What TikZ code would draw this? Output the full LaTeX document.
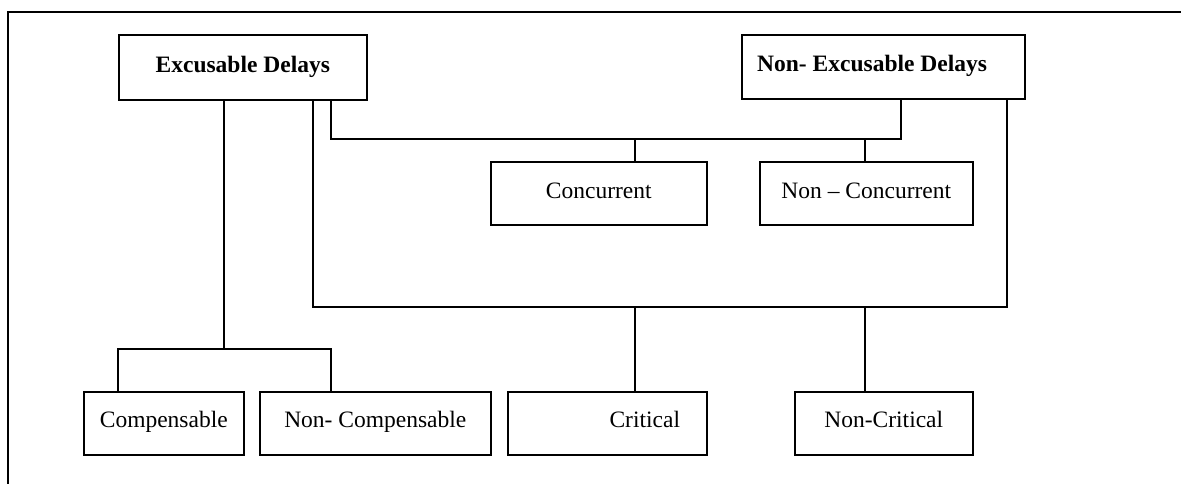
\documentclass[tikz,border=0pt]{standalone}
\usepackage{fontspec}
\setmainfont{Liberation Serif}
\begin{document}
\begin{tikzpicture}[x=1pt,y=1pt,
  box/.style={draw=black, line width=1.6pt, rectangle, inner sep=0pt, anchor=north west},
  lbl/.style={anchor=base, inner sep=0pt, font=\fontsize{23.5}{28}\selectfont},
  conn/.style={draw=black, line width=1.5pt, line cap=rect},
  frameline/.style={draw=black, line width=2pt}]
\useasboundingbox (0,0) rectangle (1181,-484);

% outer frame (top and left edges)
\draw[frameline] (8,-484) -- (8,-12) -- (1181,-12);

% top-level categories
\node[box, minimum width=248, minimum height=65] (ed) at (118,-34) {};
\node[lbl, font=\fontsize{23.5}{28}\selectfont\bfseries] at ([yshift=28]ed.south) {Excusable Delays};
\node[box, minimum width=283, minimum height=64] (ned) at (741,-34) {};
\node[lbl, font=\fontsize{23.5}{28}\selectfont\bfseries, anchor=base west] at ([yshift=28]ned.south west) {\hspace*{16pt}Non- Excusable Delays};

% middle row
\node[box, minimum width=216, minimum height=63] (conc) at (490,-161) {};
\node[lbl] at ([yshift=27]conc.south) {Concurrent};
\node[box, minimum width=213, minimum height=63] (nconc) at (759,-161) {};
\node[lbl] at ([yshift=27]nconc.south) {Non -- Concurrent};

% bottom row
\node[box, minimum width=160, minimum height=63] (comp) at (83,-391) {};
\node[lbl] at ([yshift=28]comp.south) {Compensable};
\node[box, minimum width=231, minimum height=63] (ncomp) at (259,-391) {};
\node[lbl] at ([yshift=28]ncomp.south) {Non- Compensable};
\node[box, minimum width=199, minimum height=63] (crit) at (507,-391) {};
\node[lbl] at ([xshift=37.5,yshift=28]crit.south) {Critical};
\node[box, minimum width=178, minimum height=63] (ncrit) at (794,-391) {};
\node[lbl] at ([yshift=28]ncrit.south) {Non-Critical};

% bus corners
\coordinate (b1l) at (118,-349);
\coordinate (b1m) at (224,-349);
\coordinate (b1r) at (331,-349);
\coordinate (b2l) at (313,-307);
\coordinate (b2r) at (1007,-307);
\coordinate (b3l) at (331,-139);
\coordinate (b3r) at (901,-139);

% Excusable -> Compensable / Non-Compensable
\draw[conn] (ed.south -| b1m) -- (b1m);
\draw[conn] (comp.north -| b1l) -- (b1l) -- (b1r) -- (ncomp.north -| b1r);

% Critical / Non-Critical bus
\draw[conn] (ed.south -| b2l) -- (b2l) -- (b2r) -- (ned.south -| b2r);
\draw[conn] (crit.north -| 635,0) -- (635,-307);
\draw[conn] (ncrit.north -| 865,0) -- (865,-307);

% Concurrent / Non-Concurrent bus
\draw[conn] (ed.south -| b3l) -- (b3l) -- (b3r) -- (ned.south -| b3r);
\draw[conn] (conc.north -| 635,0) -- (635,-139);
\draw[conn] (nconc.north -| 865,0) -- (865,-139);
\end{tikzpicture}
\end{document}
